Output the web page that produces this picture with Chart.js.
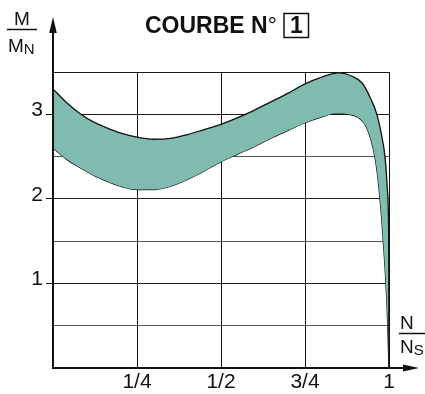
<!DOCTYPE html>
<html>
<head>
<meta charset="utf-8">
<script src="https://cdn.jsdelivr.net/npm/chart.js@4.4.1/dist/chart.umd.min.js"></script>
<style>
  html, body { margin: 0; padding: 0; background: #ffffff; }
  #wrap { width: 425px; height: 394px; }
</style>
</head>
<body>
<div id="wrap"><canvas id="c" width="425" height="394"></canvas></div>
<script>
// Torque band M/MN against speed ratio N/NS (upper and lower envelope)
const upperN = [0.00, 0.04, 0.08, 0.12, 0.16, 0.20, 0.25, 0.30, 0.35, 0.40, 0.45, 0.50, 0.55, 0.60, 0.65, 0.70, 0.75, 0.80, 0.85, 0.89, 0.92, 0.945, 0.963, 0.978, 0.988, 0.995, 0.998, 0.999, 1.00];
const upperM = [3.30, 3.14, 3.01, 2.91, 2.84, 2.78, 2.73, 2.705, 2.715, 2.76, 2.82, 2.88, 2.96, 3.05, 3.15, 3.25, 3.36, 3.44, 3.49, 3.45, 3.37, 3.19, 3.01, 2.75, 2.50, 2.12, 1.85, 1.50, 0.00];
const lowerN = [0.00, 0.04, 0.08, 0.12, 0.16, 0.20, 0.25, 0.30, 0.35, 0.40, 0.45, 0.50, 0.55, 0.60, 0.65, 0.70, 0.75, 0.80, 0.84, 0.88, 0.91, 0.93, 0.945, 0.958, 0.966, 0.972, 0.978, 0.983, 0.991, 0.995, 1.00];
const lowerM = [2.60, 2.47, 2.37, 2.28, 2.21, 2.15, 2.11, 2.11, 2.15, 2.23, 2.33, 2.44, 2.53, 2.62, 2.72, 2.81, 2.90, 2.97, 3.01, 3.00, 2.96, 2.87, 2.72, 2.50, 2.28, 2.05, 1.78, 1.50, 1.00, 0.65, 0.00];

const xTickValues = [0.25, 0.5, 0.75, 1];
const xTickLabels = ['1/4', '1/2', '3/4', '1'];
const yTickValues = [1, 2, 3];
const yTickLabels = ['1', '2', '3'];

const curveNumber = '1';
const titleText = 'COURBE N';

const FONT = "'Liberation Sans', Arial, sans-serif";
const BAND = '#80bbaf';
const INK = '#111111';

const toPoints = (xs, ys) => xs.map((x, i) => ({ x: x, y: ys[i] }));

function labelFor(values, labels, v) {
  const i = values.findIndex(t => Math.abs(t - v) < 1e-9);
  return i >= 0 ? labels[i] : '';
}

// axes with arrows, axis fractions and the boxed title
const decor = {
  id: 'decor',
  afterDraw(chart) {
    const ctx = chart.ctx;
    const xs = chart.scales.x, ys = chart.scales.y;
    const x0 = xs.getPixelForValue(0);
    const y0 = ys.getPixelForValue(0);
    ctx.save();
    ctx.strokeStyle = INK;
    ctx.fillStyle = INK;
    ctx.lineWidth = 2;
    ctx.lineCap = 'butt';
    // vertical axis
    ctx.beginPath();
    ctx.moveTo(x0, y0 + 1);
    ctx.lineTo(x0, 32);
    ctx.stroke();
    ctx.beginPath();
    ctx.moveTo(x0, 17);
    ctx.lineTo(x0 - 3.8, 33);
    ctx.lineTo(x0 + 3.8, 33);
    ctx.closePath();
    ctx.fill();
    // horizontal axis
    ctx.beginPath();
    ctx.moveTo(x0 - 1, y0);
    ctx.lineTo(404, y0);
    ctx.stroke();
    ctx.beginPath();
    ctx.moveTo(419, y0);
    ctx.lineTo(403, y0 - 3.6);
    ctx.lineTo(403, y0 + 3.6);
    ctx.closePath();
    ctx.fill();

    // M / MN
    ctx.textBaseline = 'alphabetic';
    ctx.textAlign = 'left';
    ctx.font = '19px ' + FONT;
    let w = ctx.measureText('M').width;
    ctx.fillText('M', 22 - w / 2, 25);
    ctx.lineWidth = 1.5;
    ctx.beginPath();
    ctx.moveTo(7, 29.5);
    ctx.lineTo(37, 29.5);
    ctx.stroke();
    ctx.fillText('M', 8, 52);
    let mw = ctx.measureText('M').width;
    ctx.font = '15px ' + FONT;
    ctx.fillText('N', 8 + mw, 54);

    // N / NS
    ctx.font = '19px ' + FONT;
    ctx.fillText('N', 400, 329);
    ctx.beginPath();
    ctx.moveTo(399, 333.5);
    ctx.lineTo(425, 333.5);
    ctx.stroke();
    ctx.fillText('N', 400, 353);
    let nw = ctx.measureText('N').width;
    ctx.font = '15px ' + FONT;
    ctx.fillText('S', 400 + nw, 355);

    // title
    ctx.font = 'bold 23px ' + FONT;
    ctx.fillText(titleText, 145, 33);
    const tw = ctx.measureText(titleText).width;
    ctx.font = '23px ' + FONT;
    ctx.fillText('\u00b0', 145 + tw, 33);
    ctx.lineWidth = 1.5;
    ctx.strokeRect(284, 13.5, 24.5, 24);
    ctx.font = 'bold 23px ' + FONT;
    ctx.textAlign = 'center';
    ctx.fillText(curveNumber, 296.5, 33);
    ctx.restore();
  }
};

new Chart(document.getElementById('c'), {
  type: 'line',
  data: {
    datasets: [
      {
        data: toPoints(upperN, upperM),
        borderColor: INK,
        borderWidth: 1.3,
        backgroundColor: BAND,
        fill: '+1',
        pointRadius: 0,
        cubicInterpolationMode: 'monotone',
        clip: false
      },
      {
        data: toPoints(lowerN, lowerM),
        borderColor: INK,
        borderWidth: 1.3,
        backgroundColor: BAND,
        fill: false,
        pointRadius: 0,
        cubicInterpolationMode: 'monotone',
        clip: false
      }
    ]
  },
  options: {
    responsive: false,
    animation: false,
    devicePixelRatio: 1,
    layout: { padding: { top: 72, right: 36, left: 0, bottom: 0 } },
    plugins: {
      legend: { display: false },
      tooltip: { enabled: false },
      title: { display: false }
    },
    scales: {
      x: {
        type: 'linear',
        min: 0,
        max: 1,
        afterFit(scale) { scale.height = 26; },
        afterBuildTicks(scale) {
          scale.ticks = [0].concat(xTickValues).map(v => ({ value: v }));
        },
        border: { display: true, color: INK, width: 2 },
        grid: {
          color: '#111111',
          lineWidth: 1,
          drawTicks: false
        },
        ticks: {
          autoSkip: false,
          maxRotation: 0,
          padding: 2,
          color: INK,
          font: { family: FONT, size: 21 },
          callback: (v) => labelFor(xTickValues, xTickLabels, v)
        }
      },
      y: {
        type: 'linear',
        min: 0,
        max: 3.5,
        afterFit(scale) { scale.width = 53; },
        border: { display: true, color: INK, width: 2 },
        grid: {
          color: (c) => (Number.isInteger(c.tick.value) || c.tick.value === 3.5) ? '#1a1a1a' : '#555555',
          lineWidth: 1,
          drawTicks: true,
          tickLength: 7,
          tickColor: (c) => Number.isInteger(c.tick.value) && c.tick.value > 0 ? INK : 'rgba(0,0,0,0)'
        },
        ticks: {
          stepSize: 0.5,
          autoSkip: false,
          padding: 3,
          labelOffset: -4,
          color: INK,
          font: { family: FONT, size: 21 },
          callback: (v) => labelFor(yTickValues, yTickLabels, v)
        }
      }
    }
  },
  plugins: [decor]
});
</script>
</body>
</html>
